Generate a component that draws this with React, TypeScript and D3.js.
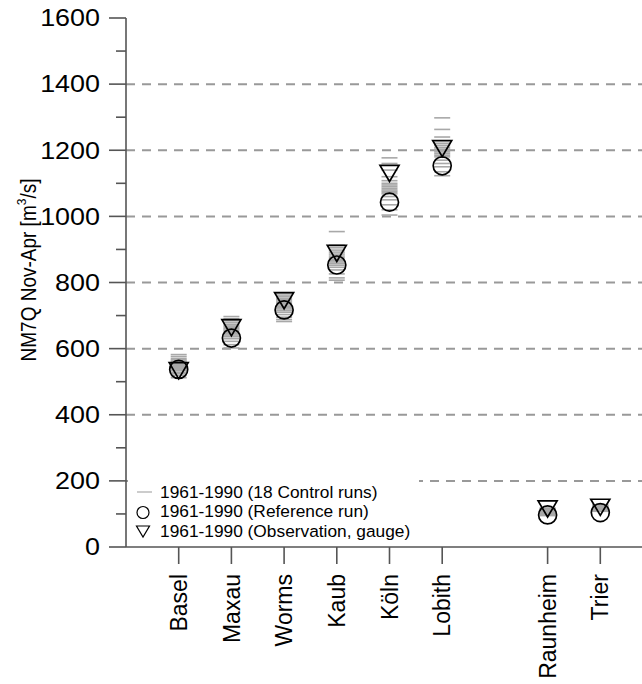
import React from "react";
import * as d3 from "d3";

const stations = ["Basel", "Maxau", "Worms", "Kaub", "Köln", "Lobith", "Raunheim", "Trier"];
const stationPos = [1, 2, 3, 4, 5, 6, 8, 9];
const referenceRun = [537, 632, 717, 853, 1043, 1153, 97, 104];
const observation = [533, 663, 745, 888, 1130, 1205, 115, 120];
const controlRuns: number[][] = [
  [582, 576, 570, 566, 562, 558, 555, 551, 548, 545, 542, 540, 537, 533, 528, 524, 519, 512],
  [697, 690, 684, 678, 672, 668, 664, 660, 656, 652, 648, 645, 641, 636, 630, 622, 612, 602],
  [768, 762, 757, 752, 748, 744, 740, 736, 732, 728, 724, 720, 715, 710, 703, 695, 688, 682],
  [954, 913, 905, 898, 892, 886, 880, 875, 870, 866, 862, 857, 852, 846, 838, 826, 814, 807],
  [1177, 1160, 1140, 1120, 1108, 1100, 1095, 1090, 1085, 1080, 1076, 1072, 1068, 1060, 1050, 1035, 1020, 1004],
  [1298, 1263, 1240, 1226, 1220, 1214, 1208, 1203, 1199, 1195, 1190, 1185, 1180, 1170, 1160, 1150, 1135, 1123],
  [118, 116, 114, 113, 112, 111, 110, 109, 108, 107, 106, 105, 104, 103, 102, 100, 98, 95],
  [128, 126, 125, 124, 123, 122, 121, 120, 119, 118, 117, 116, 115, 114, 113, 112, 110, 108],
];
const yTicks = [0, 200, 400, 600, 800, 1000, 1200, 1400, 1600];
const yMinorTicks = [100, 300, 500, 700, 900, 1100, 1300, 1500];
const gridValues = [200, 400, 600, 800, 1000, 1200, 1400];
const legendLabels = [
  "1961-1990 (18 Control runs)",
  "1961-1990 (Reference run)",
  "1961-1990 (Observation, gauge)",
];

const W = 642;
const H = 684;
const FONT = "Liberation Sans, Arial, Helvetica, sans-serif";
const AXIS = "#555";
const GRID = "#999";

function tri(cx: number, cy: number, s: number) {
  const h = s * 0.85;
  return `M${cx - s / 2},${cy - h / 2}L${cx + s / 2},${cy - h / 2}L${cx},${cy + h / 2}Z`;
}

export default function App() {
  const x = d3.scaleLinear().domain([0, 10]).range([126, 653]);
  const y = d3.scaleLinear().domain([0, 1600]).range([547, 18]);
  const x0 = x(0);
  const y0 = y(0);

  return (
    <svg
      width={W}
      height={H}
      style={{ position: "absolute", left: 0, top: 0, background: "#fff" }}
      fontFamily={FONT}
    >
      <rect x={0} y={0} width={W} height={H} fill="#fff" />
      {gridValues.map((v) => (
        <line
          key={"g" + v}
          x1={x0}
          x2={W}
          y1={y(v)}
          y2={y(v)}
          stroke={GRID}
          strokeWidth={2}
          strokeDasharray="9,7"
        />
      ))}
      <rect x={128} y={472} width={291} height={73} fill="#fff" />
      {controlRuns.map((arr, i) =>
        arr.map((v, j) => (
          <line
            key={`c${i}-${j}`}
            x1={x(stationPos[i]) - 8}
            x2={x(stationPos[i]) + 8}
            y1={y(v)}
            y2={y(v)}
            stroke="#a8a8a8"
            strokeWidth={1.6}
          />
        ))
      )}
      {referenceRun.map((v, i) => (
        <circle
          key={"r" + i}
          cx={x(stationPos[i])}
          cy={y(v)}
          r={9}
          fill="none"
          stroke="#000"
          strokeWidth={1.7}
        />
      ))}
      {observation.map((v, i) => (
        <path
          key={"o" + i}
          d={tri(x(stationPos[i]), y(v), 19)}
          fill="none"
          stroke="#000"
          strokeWidth={1.7}
        />
      ))}
      <line x1={x0} x2={x0} y1={y(1600)} y2={y0} stroke={AXIS} strokeWidth={1.6} />
      <line x1={x0} x2={W} y1={y0} y2={y0} stroke={AXIS} strokeWidth={1.6} />
      {yTicks.map((v) => (
        <g key={"yt" + v}>
          <line x1={x0 - 17} x2={x0} y1={y(v)} y2={y(v)} stroke={AXIS} strokeWidth={1.6} />
          <text
            transform={`translate(${x0 - 26},${y(v)}) scale(1.17,1)`}
            textAnchor="end"
            dominantBaseline="central"
            fontSize={23}
            fill="#000"
          >
            {v}
          </text>
        </g>
      ))}
      {yMinorTicks.map((v) => (
        <line key={"ym" + v} x1={x0 - 10} x2={x0} y1={y(v)} y2={y(v)} stroke={AXIS} strokeWidth={1.6} />
      ))}
      {stations.map((s, i) => {
        const px = x(stationPos[i]);
        return (
          <g key={"xt" + s}>
            <line x1={px} x2={px} y1={y0} y2={y0 + 17} stroke={AXIS} strokeWidth={1.6} />
            <text
              transform={`translate(${px},${y0 + 27}) rotate(-90) scale(1,1.05)`}
              textAnchor="end"
              dominantBaseline="central"
              fontSize={23}
              fill="#000"
            >
              {s}
            </text>
          </g>
        );
      })}
      <text
        transform={`translate(29,${270}) rotate(-90) scale(1,1.12)`}
        textAnchor="middle"
        dominantBaseline="central"
        fontSize={19}
        fill="#000"
      >
        NM7Q Nov-Apr [m
        <tspan dy={-7} fontSize={12}>3</tspan>
        <tspan dy={7}>/s]</tspan>
      </text>
      <line x1={137} x2={152} y1={492} y2={492} stroke="#bbb" strokeWidth={1.5} />
      <circle cx={143} cy={512.5} r={6} fill="none" stroke="#000" strokeWidth={1.2} />
      <path d={tri(143, 531.5, 13)} fill="none" stroke="#000" strokeWidth={1.2} />
      {legendLabels.map((t, i) => (
        <text
          key={"l" + i}
          transform={`translate(160,${492.5 + i * 19.5}) scale(1.05,1)`}
          dominantBaseline="central"
          fontSize={16.5}
          fill="#000"
        >
          {t}
        </text>
      ))}
    </svg>
  );
}
